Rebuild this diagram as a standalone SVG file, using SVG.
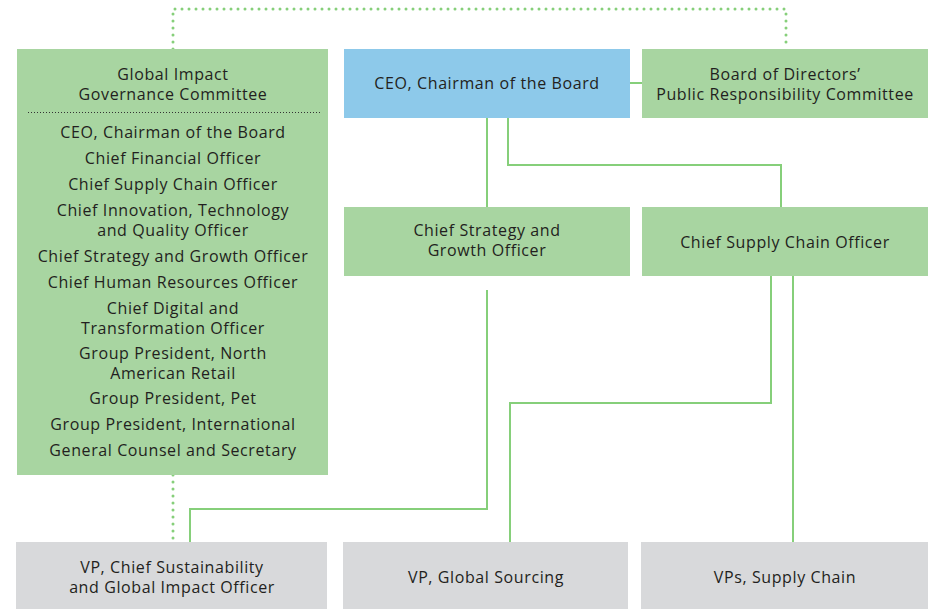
<svg xmlns="http://www.w3.org/2000/svg" width="928" height="609" viewBox="0 0 928 609">
<style>
.g{fill:#a8d5a1}
.b{fill:#8dc9ea}
.gr{fill:#d8d9db}
text{font-family:"Open Sans","Liberation Sans",Arial,sans-serif;font-size:16px;letter-spacing:0.6px;fill:#231f20;text-anchor:middle;dominant-baseline:central}
.c{fill:none;stroke:#86cf7a;stroke-width:2}
.d{fill:none;stroke:#86cf7a;stroke-width:3;stroke-linecap:round;stroke-dasharray:0 7}
</style>
<rect width="928" height="609" fill="#ffffff"/>
<g id="connectors">
<path class="d" d="M173,49 V9 H786 V49"/>
<path class="d" d="M173,475 V542"/>
<path class="c" d="M630,83 H642"/>
<path class="c" d="M487,118 V207"/>
<path class="c" d="M508,118 V165 H781 V207"/>
<path class="c" d="M487,290 V509 H190 V542"/>
<path class="c" d="M771,276 V403 H510 V542"/>
<path class="c" d="M793,276 V542"/>
</g>
<g id="committee">
<rect class="g" x="17" y="49" width="311" height="426"/>
<text x="173" y="74">Global Impact</text>
<text x="173" y="94">Governance Committee</text>
<line x1="28" y1="112.5" x2="321" y2="112.5" stroke="#333" stroke-width="1" stroke-dasharray="1 2"/>
<text x="173" y="132">CEO, Chairman of the Board</text>
<text x="173" y="158">Chief Financial Officer</text>
<text x="173" y="184">Chief Supply Chain Officer</text>
<text x="173" y="210">Chief Innovation, Technology</text>
<text x="173" y="230">and Quality Officer</text>
<text x="173" y="256">Chief Strategy and Growth Officer</text>
<text x="173" y="282">Chief Human Resources Officer</text>
<text x="173" y="308">Chief Digital and</text>
<text x="173" y="328">Transformation Officer</text>
<text x="173" y="353">Group President, North</text>
<text x="173" y="373">American Retail</text>
<text x="173" y="398">Group President, Pet</text>
<text x="173" y="424">Group President, International</text>
<text x="173" y="450">General Counsel and Secretary</text>
</g>
<g id="ceo">
<rect class="b" x="344" y="49" width="286" height="69"/>
<text x="487" y="83">CEO, Chairman of the Board</text>
</g>
<g id="board">
<rect class="g" x="642" y="49" width="286" height="69"/>
<text x="785" y="74">Board of Directors’</text>
<text x="785" y="94">Public Responsibility Committee</text>
</g>
<g id="csgo">
<rect class="g" x="344" y="207" width="286" height="69"/>
<text x="487" y="230">Chief Strategy and</text>
<text x="487" y="250">Growth Officer</text>
</g>
<g id="csco">
<rect class="g" x="642" y="207" width="286" height="69"/>
<text x="785" y="241.5">Chief Supply Chain Officer</text>
</g>
<g id="vp-sustainability">
<rect class="gr" x="16" y="542" width="311" height="67"/>
<text x="172" y="566.5">VP, Chief Sustainability</text>
<text x="172" y="586.5">and Global Impact Officer</text>
</g>
<g id="vp-sourcing">
<rect class="gr" x="343" y="542" width="285" height="67"/>
<text x="486" y="576.5">VP, Global Sourcing</text>
</g>
<g id="vps-supply">
<rect class="gr" x="641" y="542" width="287" height="67"/>
<text x="785" y="576.5">VPs, Supply Chain</text>
</g>
</svg>
